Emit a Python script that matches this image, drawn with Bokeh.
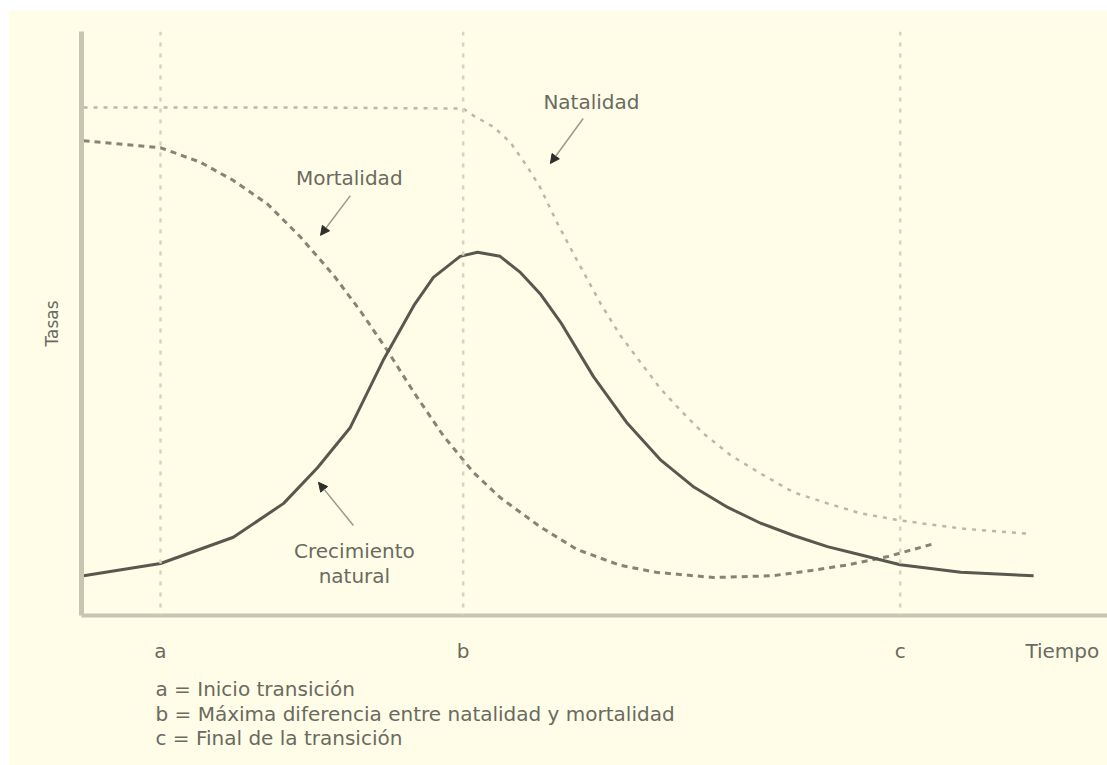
from bokeh.plotting import figure
from bokeh.layouts import column, row
from bokeh.models import Range1d, Span, Label, Arrow, NormalHead, FixedTicker, Title, Spacer
from bokeh.embed import file_html
from bokeh.resources import INLINE

# ---- data (arbitrary units: time 0-100, rates 0-100) ----
nat_t = [0.2, 7.7, 21.4, 37.2, 38.2, 40.2, 41.8, 43.5, 44.7, 46.4, 48.3, 50.6, 52.5,
         54.5, 56.4, 58.4, 60.6, 63.3, 66.2, 69.4, 72.7, 75.9, 79.7, 85.7, 92.2]
nat_r = [87.0, 87.0, 87.0, 86.8, 85.6, 83.6, 81.0, 76.7, 73.3, 67.1, 60.8, 53.4, 48.0,
         43.3, 38.9, 35.1, 31.2, 27.4, 24.3, 21.1, 19.2, 17.5, 16.3, 14.9, 14.0]

mort_t = [0.2, 7.7, 11.6, 14.8, 18.1, 21.3, 24.6, 27.2, 29.8, 32.4, 35.3, 38.2, 40.8,
          44.7, 48.3, 52.5, 56.0, 61.6, 67.3, 71.1, 74.8, 78.6, 83.1]
mort_r = [81.3, 80.1, 77.6, 74.5, 70.5, 64.9, 58.2, 52.1, 45.4, 38.2, 30.7, 24.5, 20.2,
          15.2, 11.3, 8.6, 7.4, 6.5, 6.8, 7.7, 8.7, 10.1, 12.3]

crec_t = [0.2, 7.7, 14.8, 19.7, 23.0, 26.2, 29.4, 32.4, 34.3, 36.9, 38.6, 40.8, 42.8,
          44.7, 46.7, 49.9, 53.2, 56.4, 59.6, 63.0, 66.2, 69.4, 72.7, 75.9, 79.8, 85.7, 92.8]
crec_r = [6.8, 8.9, 13.4, 19.2, 25.3, 32.2, 43.7, 53.1, 57.9, 61.5, 62.2, 61.5, 58.7,
          55.1, 50.2, 40.9, 32.9, 26.7, 22.1, 18.5, 15.8, 13.7, 11.8, 10.4, 8.7, 7.4, 6.8]

marks = [7.7, 37.2, 79.8]
mark_names = ["a", "b", "c"]
time_label_pos = 95.6
time_label = "Tiempo"
legend_lines = ["a = Inicio transición",
                "b = Máxima diferencia entre natalidad y mortalidad",
                "c = Final de la transición"]

BG = "#fffde8"
TXT = "#6a6a60"
FONT = "DejaVu Sans"
FS = "20px"

p = figure(width=1099, height=755, output_backend="svg", toolbar_location=None,
           x_range=Range1d(0, 100), y_range=Range1d(0, 100),
           min_border_left=73, min_border_right=0, min_border_top=21, min_border_bottom=150)
p.background_fill_color = BG
p.border_fill_color = BG
p.outline_line_color = None
p.grid.visible = False

# axes
xa = p.xaxis[0]
xa.ticker = FixedTicker(ticks=marks + [time_label_pos])
overrides = {m: n for m, n in zip(marks, mark_names)}
overrides[time_label_pos] = time_label
xa.major_label_overrides = overrides
xa.axis_line_color = "#c8c5b0"
xa.axis_line_width = 4
xa.major_tick_line_color = None
xa.minor_tick_line_color = None
xa.major_label_standoff = 17
xa.major_label_text_font = FONT
xa.major_label_text_font_size = FS
xa.major_label_text_color = TXT

ya = p.yaxis[0]
ya.ticker = FixedTicker(ticks=[])
ya.axis_line_color = "#c8c5b0"
ya.axis_line_width = 5
ya.major_tick_line_color = None
ya.minor_tick_line_color = None
ya.axis_label = "Tasas"
ya.axis_label_text_font = FONT
ya.axis_label_text_font_size = "17px"
ya.axis_label_text_font_style = "normal"
ya.axis_label_text_color = TXT
ya.axis_label_standoff = 20

# legend lines below the axis (one multi-line title)
p.add_layout(Title(text="\n".join(legend_lines), align="left", offset=74, standoff=19,
                   text_font=FONT, text_font_size=FS, text_font_style="normal",
                   text_line_height=1.02, text_color=TXT), "below")

# vertical reference lines
for m in marks:
    p.add_layout(Span(location=m, dimension="height", line_color="#d6d3bf",
                      line_width=2.5, line_dash="4 7"))

# curves
p.line(nat_t, nat_r, line_color="#bab8a6", line_width=2.5, line_dash="4 6")
p.line(mort_t, mort_r, line_color="#858476", line_width=3, line_dash="6 5")
p.line(crec_t, crec_r, line_color="#58584e", line_width=3)

# annotations (labels + arrows)
def lab(x, y, text):
    p.add_layout(Label(x=x, y=y, text=text, text_align="center", text_baseline="middle",
                       text_font=FONT, text_font_size=FS, text_color=TXT))

def arr(x0, y0, x1, y1):
    p.add_layout(Arrow(end=NormalHead(size=9, fill_color="#2e2e2a", line_color="#2e2e2a"),
                       x_start=x0, y_start=y0, x_end=x1, y_end=y1,
                       line_color="#9c9a8c", line_width=1.5))

lab(49.7, 88.0, "Natalidad")
arr(48.9, 85.1, 45.7, 77.4)
lab(26.1, 75.0, "Mortalidad")
arr(26.2, 71.9, 23.3, 65.1)
lab(26.6, 11.1, "Crecimiento")
lab(26.6, 6.7, "natural")
arr(26.5, 15.4, 23.1, 22.8)

layout = column(Spacer(height=10), row(Spacer(width=8), p))
open("out.html", "w").write(file_html(layout, INLINE))
